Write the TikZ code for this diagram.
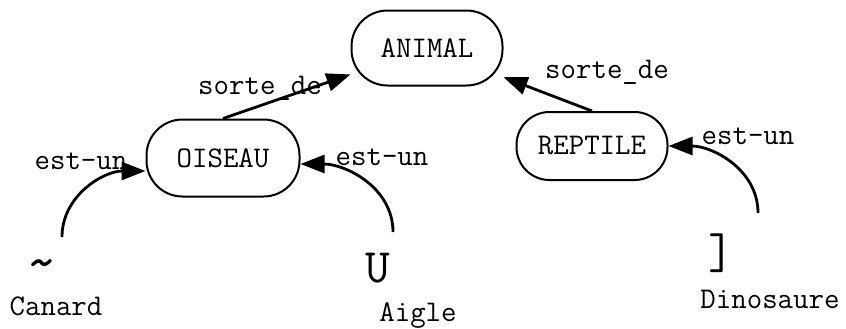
\documentclass[tikz,border=0pt]{standalone}
\usepackage{fontspec}
\usetikzlibrary{arrows.meta,positioning}
\tikzset{
  cbox/.style={rectangle, rounded corners=18pt, draw=black, line width=1pt,
               minimum width=75.5pt, minimum height=37.5pt, font=\ttfamily\fontsize{15}{17}\selectfont},
  lbl/.style={font=\ttfamily\fontsize{15}{17}\selectfont, inner sep=0pt},
  glyph/.style={font=\ttfamily\fontsize{24}{26}\selectfont, inner sep=0pt},
  flow/.style={-{Triangle[length=12pt,width=9pt]}, line width=1.4pt, draw=black},
}
\begin{document}
\begin{tikzpicture}[x=0.5pt,y=-0.5pt]
    \useasboundingbox (0,0) rectangle (846,328);
    \node[cbox] (animal) at (427,48) {ANIMAL};
    \node[cbox, minimum width=76.5pt, minimum height=38.5pt] (oiseau) at (223,158) {OISEAU};
    \node[cbox, rounded corners=16.5pt, minimum height=34pt] (reptile) at (592,146) {REPTILE};
    \node[glyph, font=\ttfamily\fontsize{30}{32}\selectfont] (canard) at (42,271) {\textasciitilde};
    \node[glyph] (aigle) at (378,268) {U};
    \node[glyph, font=\ttfamily\fontsize{25}{27}\selectfont] (dino) at (721,253) {]};
    \node[lbl] (canardname) at (56,306) {Canard};
    \node[lbl] (aiglename) at (418,316) {Aigle};
    \node[lbl] (dinoname) at (770,299) {Dinosaure};
    \coordinate (canardtail) at (62,237);
    \coordinate (aigletail) at (393,232);
    \coordinate (dinotail) at (758,213);
    \draw[flow] (oiseau.north)--(animal);\draw[flow] (reptile.north)--(animal);
    \draw[flow] (canardtail) to[out=90,in=180] ([yshift=-6.5pt]oiseau.west);
    \draw[flow] (aigletail) to[out=90,in=0] ([yshift=-3pt]oiseau.east);
    \draw[flow] (dinotail) to[out=90,in=0] (reptile.east);
    \node[lbl] (sorte1) at (260,88) {sorte\_de};
    \node[lbl] (sorte2) at (607,72) {sorte\_de};
    \node[lbl] (estun1) at (81,161) {est-un};
    \node[lbl] (estun2) at (382,157) {est-un};
    \node[lbl] (estun3) at (748,136) {est-un};
  \end{tikzpicture}
\end{document}
